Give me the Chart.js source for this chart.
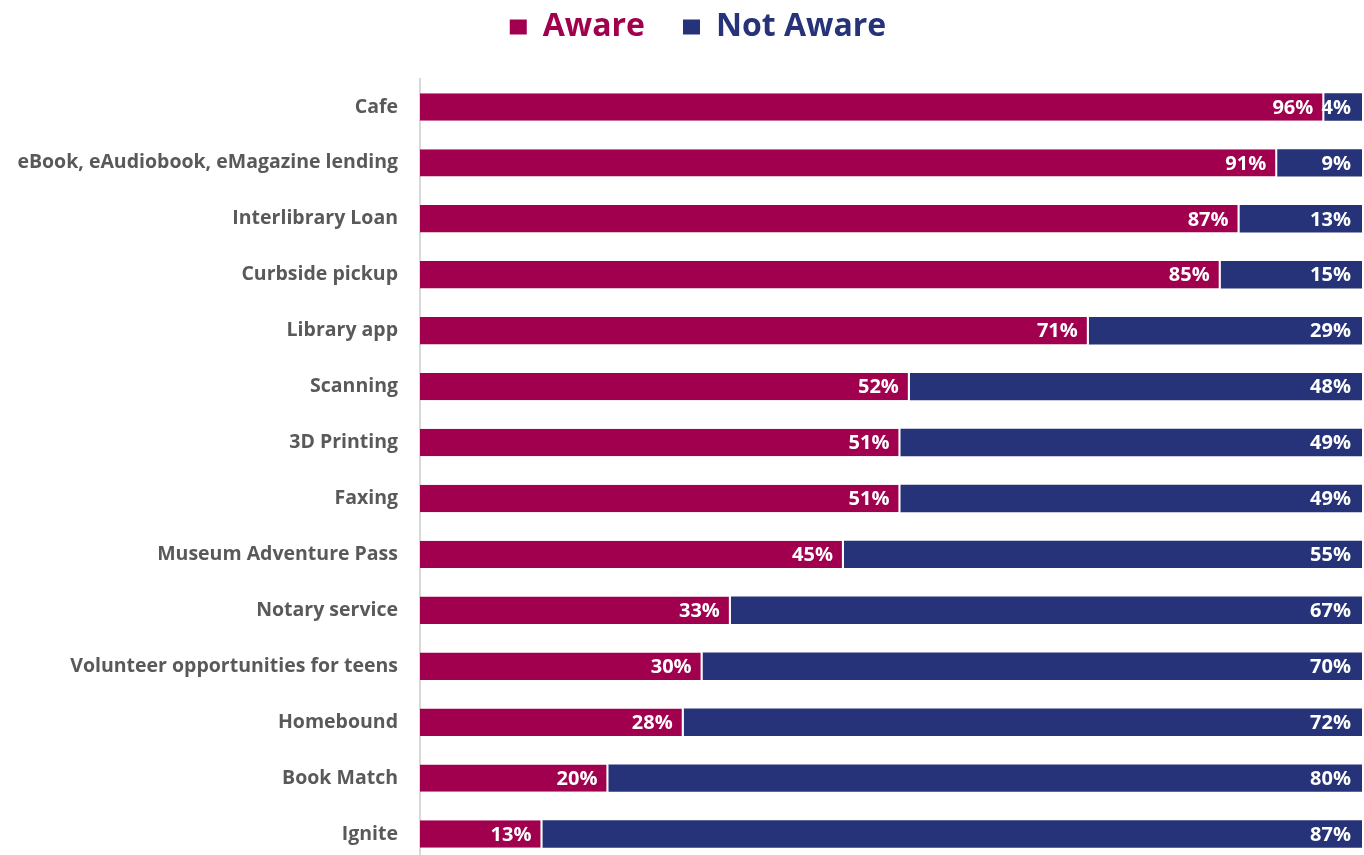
<!DOCTYPE html>
<html>
<head>
<meta charset="utf-8">
<script src="https://cdn.jsdelivr.net/npm/chart.js@4"></script>
<style>
  html, body { margin: 0; padding: 0; background: #fff; overflow: hidden; }
  #c { display: block; }
</style>
</head>
<body>
<canvas id="c" width="1364" height="862"></canvas>
<script>
const categories = [
  "Cafe",
  "eBook, eAudiobook, eMagazine lending",
  "Interlibrary Loan",
  "Curbside pickup",
  "Library app",
  "Scanning",
  "3D Printing",
  "Faxing",
  "Museum Adventure Pass",
  "Notary service",
  "Volunteer opportunities for teens",
  "Homebound",
  "Book Match",
  "Ignite"
];
const aware =    [96, 91, 87, 85, 71, 52, 51, 51, 45, 33, 30, 28, 20, 13];
const notAware = [ 4,  9, 13, 15, 29, 48, 49, 49, 55, 67, 70, 72, 80, 87];
const seriesNames = ["Aware", "Not Aware"];
const colors = ["#A0004E", "#263379"];
const FONT = '"Open Sans", Lato, sans-serif';

const valueLabels = {
  id: 'valueLabels',
  afterLayout(chart) {
    // legend in the reference is centred slightly right of the canvas centre
    if (chart.legend) chart.legend.left += 34;
  },
  afterDatasetsDraw(chart) {
    const ctx = chart.ctx;
    ctx.save();
    ctx.fillStyle = '#ffffff';
    ctx.font = 'bold 20px ' + FONT;
    ctx.textAlign = 'right';
    ctx.textBaseline = 'middle';
    chart.data.datasets.forEach((ds, di) => {
      const meta = chart.getDatasetMeta(di);
      meta.data.forEach((bar, i) => {
        ctx.fillText(ds.data[i] + '%', bar.x - 11, bar.y + 1);
      });
    });
    ctx.restore();
  }
};

new Chart(document.getElementById('c'), {
  type: 'bar',
  data: {
    labels: categories,
    datasets: [
      {
        label: seriesNames[0],
        data: aware,
        backgroundColor: colors[0],
        borderColor: '#ffffff',
        borderWidth: {left: 0, right: 2, top: 0, bottom: 0},
        borderSkipped: false,
        barPercentage: 0.49,
        categoryPercentage: 1
      },
      {
        label: seriesNames[1],
        data: notAware,
        backgroundColor: colors[1],
        borderWidth: 0,
        barPercentage: 0.49,
        categoryPercentage: 1
      }
    ]
  },
  options: {
    indexAxis: 'y',
    responsive: false,
    animation: false,
    layout: { padding: { left: 0, right: 2, top: -27, bottom: 0 } },
    scales: {
      x: {
        stacked: true,
        min: 0,
        max: 100,
        position: 'top',
        display: true,
        afterFit(scale) { scale.height = 26; },
        grid: { display: false },
        border: { display: false },
        ticks: { display: false }
      },
      y: {
        stacked: true,
        afterFit(scale) {
          scale.width = 420;
          scale.paddingTop = 0;
          scale.paddingBottom = 0;
        },
        grid: { display: false, drawTicks: false },
        border: { display: true, color: '#D9D9D9', width: 2 },
        ticks: {
          color: '#595959',
          font: { family: FONT, size: 19.5, weight: 'bold' },
          padding: 22
        }
      }
    },
    plugins: {
      tooltip: { enabled: false },
      legend: {
        position: 'top',
        align: 'center',
        labels: {
          boxWidth: 17,
          boxHeight: 15,
          padding: 38,
          font: { family: FONT, size: 32, weight: 'bold' },
          generateLabels(chart) {
            return chart.data.datasets.map((ds, i) => ({
              text: ds.label,
              fillStyle: ds.backgroundColor,
              strokeStyle: ds.backgroundColor,
              lineWidth: 0,
              fontColor: colors[i],
              datasetIndex: i,
              hidden: false
            }));
          }
        }
      }
    }
  },
  plugins: [valueLabels]
});
</script>
</body>
</html>
